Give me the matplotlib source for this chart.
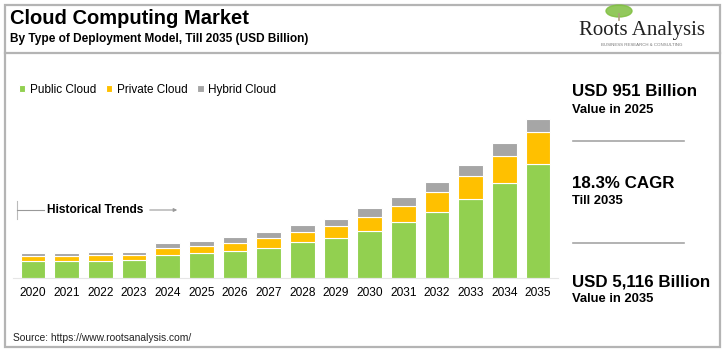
import matplotlib.pyplot as plt
from matplotlib.patches import Rectangle, Ellipse

plt.rcParams['font.family'] = ['Liberation Sans', 'DejaVu Sans']

years = ['2020', '2021', '2022', '2023', '2024', '2025', '2026', '2027',
         '2028', '2029', '2030', '2031', '2032', '2033', '2034', '2035']
public_cloud = [549, 549, 549, 572, 724, 788, 862, 969,
                1143, 1282, 1518, 1789, 2132, 2542, 3049, 3673]
private_cloud = [162, 162, 174, 155, 226, 245, 268, 313,
                 333, 388, 452, 526, 627, 743, 882, 1034]
hybrid_cloud = [78, 97, 116, 116, 171, 152, 174, 194,
                226, 236, 271, 300, 323, 365, 410, 410]

green = '#92D050'
yellow = '#FFC000'
grey = '#A6A6A6'

W, H = 726, 356
fig = plt.figure(figsize=(W / 100, H / 100), dpi=100)


def fx(x):
    return x / W


def fy(y):
    return 1 - y / H


# frame
border = '#b4b4b4'
fig.patches.append(Rectangle((fx(5), fy(347)), fx(715), (342) / H, transform=fig.transFigure,
                             fill=False, edgecolor=border, linewidth=1.6))
fig.add_artist(plt.Line2D([fx(5), fx(720)], [fy(53), fy(53)], color=border, linewidth=1.6))

# title block
fig.text(fx(10), fy(18), 'Cloud Computing Market', fontsize=14.5, fontweight='bold', va='center')
fig.text(fx(10), fy(39), 'By Type of Deployment Model, Till 2035 (USD Billion)', fontsize=8.6,
         fontweight='bold', va='center')

# logo
fig.add_artist(plt.Line2D([fx(619), fx(619)], [fy(14), fy(20)], color='#b0a080', linewidth=1.2))
fig.patches.append(Ellipse((fx(619), fy(11)), 26 / W, 12 / H, transform=fig.transFigure,
                           color='#7fbf3f', alpha=0.85))
fig.text(fx(642), fy(30), 'Roots Analysis', fontsize=15, family='Liberation Serif',
         ha='center', va='center', color='#222222')
fig.text(fx(642), fy(45), 'BUSINESS RESEARCH & CONSULTING', fontsize=3.2,
         ha='center', va='center', color='#777777')

# chart
ax = fig.add_axes([fx(12.8), fy(277.7), 545.4 / W, 177.7 / H])
x = list(range(len(years)))
bottom2 = [a + b for a, b in zip(public_cloud, private_cloud)]
ax.bar(x, public_cloud, width=0.74, color=green, edgecolor='white', linewidth=0.8, label='Public Cloud')
ax.bar(x, private_cloud, width=0.74, bottom=public_cloud, color=yellow, edgecolor='white',
       linewidth=0.8, label='Private Cloud')
ax.bar(x, hybrid_cloud, width=0.74, bottom=bottom2, color=grey, edgecolor='white',
       linewidth=0.8, label='Hybrid Cloud')
ax.set_xlim(-0.6, 15.6)
ax.set_ylim(0, 5740)
ax.set_xticks(x)
ax.set_xticklabels(years, fontsize=8.6)
ax.tick_params(axis='x', length=0, pad=6.5)
ax.set_yticks([])
for s in ['top', 'right', 'left']:
    ax.spines[s].set_visible(False)
ax.spines['bottom'].set_color('#e6e6e6')
ax.spines['bottom'].set_linewidth(0.8)

ax.legend(loc='upper left', bbox_to_anchor=(fx(19), fy(84)), bbox_transform=fig.transFigure,
          ncol=3, frameon=False, fontsize=8.5, handlelength=0.55, handleheight=0.55,
          handletextpad=0.35, columnspacing=0.85, borderaxespad=0, borderpad=0)

# historical trends marker
fig.add_artist(plt.Line2D([fx(17), fx(17)], [fy(201), fy(219)], color='#bbbbbb', linewidth=0.8))
fig.add_artist(plt.Line2D([fx(17), fx(44)], [fy(210), fy(210)], color='#999999', linewidth=0.8))
fig.text(fx(47), fy(210), 'Historical Trends', fontsize=8.6, fontweight='bold', va='center')
ax.annotate('', xy=(fx(180), fy(210)), xytext=(fx(147), fy(210)), xycoords='figure fraction',
            arrowprops=dict(arrowstyle='-|>', color='#999999', lw=0.8, mutation_scale=5))

# right panel
fig.text(fx(572), fy(91), 'USD 951 Billion', fontsize=12.2, fontweight='bold', va='center')
fig.text(fx(572), fy(110), 'Value in 2025', fontsize=9.4, fontweight='bold', va='center')
fig.add_artist(plt.Line2D([fx(573), fx(684)], [fy(141), fy(141)], color='#a6a6a6', linewidth=1.2))
fig.text(fx(572), fy(183), '18.3% CAGR', fontsize=12.2, fontweight='bold', va='center')
fig.text(fx(572), fy(201), 'Till 2035', fontsize=9.4, fontweight='bold', va='center')
fig.add_artist(plt.Line2D([fx(573), fx(684)], [fy(243), fy(243)], color='#a6a6a6', linewidth=1.2))
fig.text(fx(572), fy(282), 'USD 5,116 Billion', fontsize=12.2, fontweight='bold', va='center')
fig.text(fx(572), fy(299), 'Value in 2035', fontsize=9.4, fontweight='bold', va='center')

fig.text(fx(13), fy(338), 'Source: https://www.rootsanalysis.com/', fontsize=7.4, va='center',
         color='#222222')

fig.savefig('out.png', dpi=100)
